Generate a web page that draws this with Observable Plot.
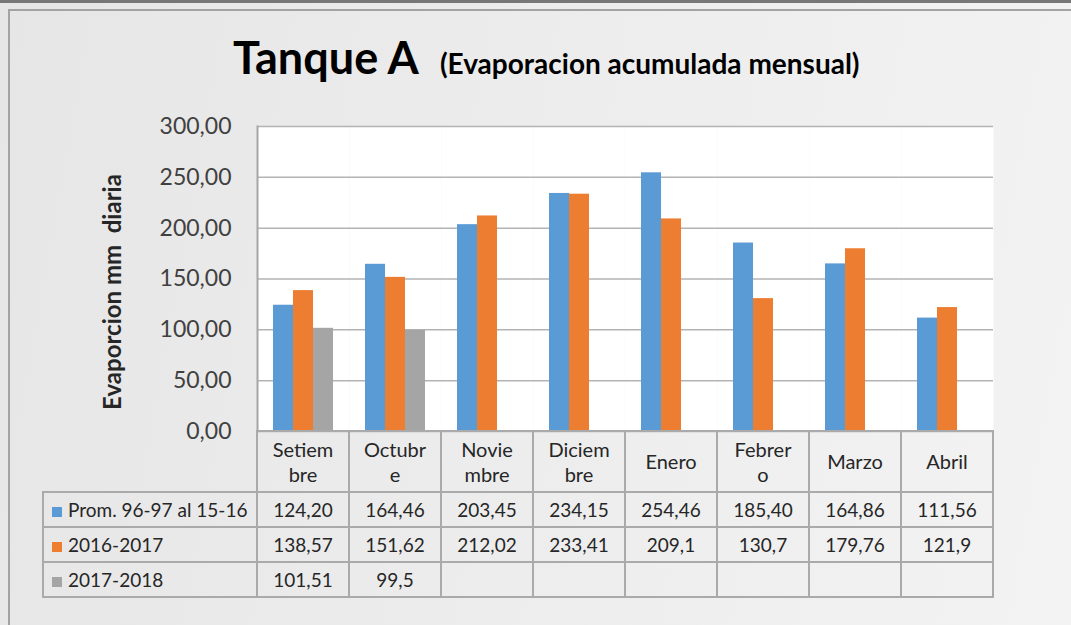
<!DOCTYPE html>
<html>
<head>
<meta charset="utf-8">
<script src="https://cdn.jsdelivr.net/npm/d3@7"></script>
<script src="https://cdn.jsdelivr.net/npm/@observablehq/plot@0.6"></script>
<style>
  html, body { margin: 0; overflow: hidden; }
  #page { position: relative; width: 1071px; height: 625px; overflow: hidden;
    background: linear-gradient(100deg, #e6e6e6 0%, #ececec 45%, #f3f3f3 100%);
    font-family: Lato, "Open Sans", sans-serif; color: #404040; }
  #topbar { position: absolute; left: 0; top: 0; width: 1071px; height: 3px; background: #777; }
  #frame { position: absolute; left: 8px; top: 9px; width: 1063px; height: 616px;
    border-left: 2px solid #a3a3a3; border-top: 2px solid #a3a3a3; box-sizing: border-box; }
  #title { position: absolute; left: 233px; top: 35px; line-height: 1; white-space: nowrap; color: #000; font-weight: 700; }
  #title .big { font-size: 45px; }
  #title .small { font-size: 28px; margin-left: 21px; }
  #ylabel { position: absolute; left: -38px; top: 280px; width: 300px; text-align: center;
    font-size: 24px; font-weight: 700; line-height: 24px; transform: rotate(-90deg); color: #262626; white-space: pre; }
  #chart { position: absolute; left: 0; top: 110px; }
  #table { position: absolute; left: 42px; top: 430px; border-collapse: collapse; table-layout: fixed; font-size: 19px; color: #262626; }
  #table td { border: 2px solid #aaaaaa; text-align: center; padding: 0; }
  #table tr.head td { height: 59px; line-height: 25px; font-size: 20px; }
  #table tr.row td { height: 33px; }
  #table td.corner { border: none; }
  #table td.leg { text-align: left; padding-left: 8px; white-space: nowrap; }
  .sw { display: inline-block; width: 10px; height: 10px; margin-right: 6px; vertical-align: 0px; }
</style>
</head>
<body>
<div id="page">
  <div id="topbar"></div>
  <div id="frame"></div>
  <div id="title"><span class="big">Tanque A</span><span class="small">(Evaporacion acumulada mensual)</span></div>
  <div id="ylabel"></div>
  <div id="chart"></div>
  <table id="table"></table>
</div>
<script>
// ---- data ----
const categories = ["Setiembre", "Octubre", "Noviembre", "Diciembre", "Enero", "Febrero", "Marzo", "Abril"];
const categoryLabels = ["Setiem\nbre", "Octubr\ne", "Novie\nmbre", "Diciem\nbre", "Enero", "Febrer\no", "Marzo", "Abril"];
const series = ["Prom. 96-97 al 15-16", "2016-2017", "2017-2018"];
const prom = [124.20, 164.46, 203.45, 234.15, 254.46, 185.40, 164.86, 111.56];
const s2016 = [138.57, 151.62, 212.02, 233.41, 209.1, 130.7, 179.76, 121.9];
const s2017 = [101.51, 99.5, null, null, null, null, null, null];
const colors = ["#5B9BD5", "#ED7D31", "#A5A5A5"];
const yTicks = [0, 50, 100, 150, 200, 250, 300];
const yLabel = "Evaporcion mm\u00a0 diaria";

const values = [prom, s2016, s2017];
const fmt = (v, si) => v == null ? "" : (si === 0 ? v.toFixed(2) : String(v)).replace(".", ",");

const data = [];
series.forEach((s, si) => values[si].forEach((v, i) => {
  if (v != null) data.push({month: categories[i], series: s, value: v});
}));

document.getElementById("ylabel").textContent = yLabel;

const chart = Plot.plot({
  width: 1071,
  height: 330,
  marginLeft: 257,
  marginRight: 78,
  marginTop: 16,
  marginBottom: 9,
  style: {background: "transparent", fontFamily: "Lato, sans-serif", fontSize: "23px", color: "#404040", overflow: "visible"},
  fx: {domain: categories, padding: 0, axis: null},
  x: {domain: series, paddingInner: 0, paddingOuter: 0.8, axis: null},
  y: {domain: [0, 300], axis: null},
  color: {domain: series, range: colors},
  marks: [
    Plot.frame({fill: "white", stroke: "none"}),
    Plot.ruleY(yTicks, {stroke: "#b3b3b3", strokeWidth: 1.5}),
    Plot.barY(data, {fx: "month", x: "series", y: "value", fill: "series"}),
    Plot.frame({anchor: "left", stroke: "#a6a6a6", strokeWidth: 2, facetAnchor: "left"}),
    Plot.axisY(yTicks, {tickSize: 0, tickPadding: 26, fontSize: 23, fill: "#404040", label: null,
      tickFormat: d => d.toFixed(2).replace(".", ",")})
  ]
});
document.getElementById("chart").appendChild(chart);

// ---- data table ----
const table = document.getElementById("table");
const colgroup = document.createElement("colgroup");
[214, ...categories.map(() => 92)].forEach(w => {
  const c = document.createElement("col"); c.style.width = w + "px"; colgroup.appendChild(c);
});
table.appendChild(colgroup);
const head = document.createElement("tr"); head.className = "head";
const corner = document.createElement("td"); corner.className = "corner"; head.appendChild(corner);
categoryLabels.forEach(l => {
  const td = document.createElement("td");
  td.innerHTML = l.split("\n").join("<br>");
  head.appendChild(td);
});
table.appendChild(head);
series.forEach((s, si) => {
  const tr = document.createElement("tr"); tr.className = "row";
  const leg = document.createElement("td"); leg.className = "leg";
  const sw = document.createElement("span"); sw.className = "sw"; sw.style.background = colors[si];
  leg.appendChild(sw); leg.appendChild(document.createTextNode(s));
  tr.appendChild(leg);
  values[si].forEach(v => {
    const td = document.createElement("td"); td.textContent = fmt(v, si); tr.appendChild(td);
  });
  table.appendChild(tr);
});
</script>
</body>
</html>
